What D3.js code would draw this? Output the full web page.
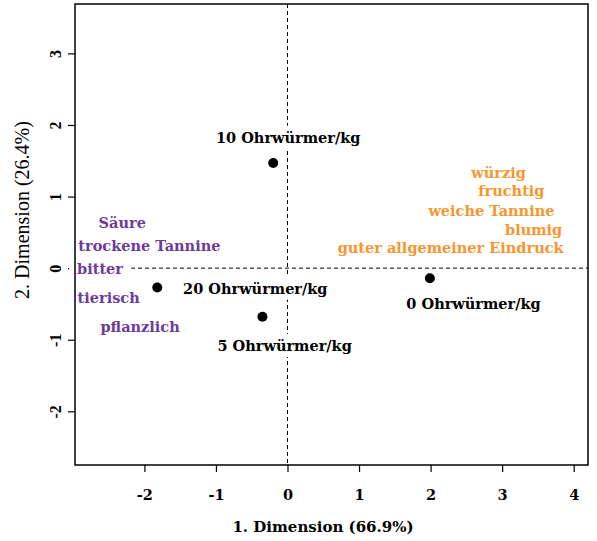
<!DOCTYPE html>
<html>
<head>
<meta charset="utf-8">
<script src="https://cdn.jsdelivr.net/npm/d3@7"></script>
<style>
  html, body { margin: 0; padding: 0; background: #fff; }
</style>
</head>
<body>
<svg id="chart" width="597" height="541"></svg>
<script>
// ---- data ----
const sampleNames = ["10 Ohrwürmer/kg", "20 Ohrwürmer/kg", "5 Ohrwürmer/kg", "0 Ohrwürmer/kg"];
const sampleX = [-0.20, -1.82, -0.35, 1.99];
const sampleY = [1.47, -0.27, -0.68, -0.14];
const sampleLabelX = [0.01, -0.45, -0.04, 2.60];
const sampleLabelY = [1.83, -0.28, -1.08, -0.49];

const negAttr = ["Säure", "trockene Tannine", "bitter", "tierisch", "pflanzlich"];
const negX = [-2.31, -1.93, -2.62, -2.50, -2.06];
const negY = [0.64, 0.32, 0.00, -0.41, -0.81];

const posAttr = ["würzig", "fruchtig", "weiche Tannine", "blumig", "guter allgemeiner Eindruck"];
const posX = [2.95, 3.13, 2.85, 3.44, 2.28];
const posY = [1.34, 1.09, 0.81, 0.54, 0.29];

const xTicks = [-2, -1, 0, 1, 2, 3, 4];
const yTicks = [-2, -1, 0, 1, 2, 3];
const xTitle = "1. Dimension (66.9%)";
const yTitle = "2. Dimension (26.4%)";

// ---- layout ----
const svg = d3.select("#chart");
const L = 75, R = 588, T = 4, B = 465;
const x = d3.scaleLinear().domain([-2.97, 4.2]).range([L, R]);
const y = d3.scaleLinear().domain([-2.75, 3.69]).range([B, T]);
const purple = "#6e3b9c";
const orange = "#f7962e";
const labelFont = "DejaVu Serif";

// reference lines
svg.append("line").attr("x1", x(0)).attr("x2", x(0)).attr("y1", T).attr("y2", B)
  .attr("stroke", "#000").attr("stroke-width", 1).attr("stroke-dasharray", "4,3");
svg.append("line").attr("x1", L).attr("x2", R).attr("y1", y(0)).attr("y2", y(0))
  .attr("stroke", "#000").attr("stroke-width", 1).attr("stroke-dasharray", "4,3");

// axes
const fmt = d => String(d);
const xAxis = d3.axisBottom(x).tickValues(xTicks).tickSize(7).tickFormat(fmt);
const gx = svg.append("g").attr("transform", `translate(0,${B})`).call(xAxis);
gx.select(".domain").remove();
gx.selectAll("line").attr("stroke", "#000").attr("stroke-width", 1.2);
gx.selectAll(".tick text").attr("fill", "#000")
  .style("font-family", labelFont).style("font-weight", "bold").style("font-size", "14.5px")
  .attr("y", 30).attr("dy", "0.35em");

const yAxis = d3.axisLeft(y).tickValues(yTicks).tickSize(7).tickFormat(fmt);
const gy = svg.append("g").attr("transform", `translate(${L},0)`).call(yAxis);
gy.select(".domain").remove();
gy.selectAll("line").attr("stroke", "#000").attr("stroke-width", 1.2);
gy.selectAll(".tick text").attr("fill", "#000")
  .style("font-family", "Liberation Serif").style("font-weight", "bold").style("font-size", "16px")
  .attr("x", 0).attr("dy", 0).attr("text-anchor", "middle")
  .attr("transform", "translate(-20,0) rotate(-90)").attr("dominant-baseline", "central");

// titles
svg.append("text").attr("x", 323).attr("y", 527).attr("text-anchor", "middle")
  .attr("dominant-baseline", "central")
  .style("font-family", labelFont).style("font-weight", "bold").style("font-size", "15px")
  .text(xTitle);
svg.append("text").attr("transform", "translate(22,210) rotate(-90)").attr("text-anchor", "middle")
  .attr("dominant-baseline", "central")
  .style("font-family", "Liberation Serif").style("font-weight", "normal").style("font-size", "20px")
  .text(yTitle);

// labels with white background: all boxes first, then all texts
const labels = [];
negAttr.forEach((s, i) => labels.push({ s, lx: negX[i], ly: negY[i], c: purple }));
posAttr.forEach((s, i) => labels.push({ s, lx: posX[i], ly: posY[i], c: orange }));
sampleNames.forEach((s, i) => labels.push({ s, lx: sampleLabelX[i], ly: sampleLabelY[i], c: "#000" }));

const boxLayer = svg.append("g");
const textLayer = svg.append("g");
labels.forEach(d => {
  const t = textLayer.append("text").attr("x", x(d.lx)).attr("y", y(d.ly))
    .attr("text-anchor", "middle").attr("dominant-baseline", "central")
    .style("font-family", labelFont).style("font-weight", "bold").style("font-size", "14.5px")
    .attr("fill", d.c).text(d.s);
  const bb = t.node().getBBox();
  const padX = 8, padY = 3;
  boxLayer.append("rect").attr("x", bb.x - padX).attr("y", bb.y - padY)
    .attr("width", bb.width + 2 * padX).attr("height", bb.height + 2 * padY).attr("fill", "#fff");
});

// points
svg.append("g").selectAll("circle").data(sampleNames).join("circle")
  .attr("cx", (d, i) => x(sampleX[i])).attr("cy", (d, i) => y(sampleY[i]))
  .attr("r", 5).attr("fill", "#000");

// box (drawn last so label backgrounds never hide it)
svg.append("rect").attr("x", L).attr("y", T).attr("width", R - L).attr("height", B - T)
  .attr("fill", "none").attr("stroke", "#000").attr("stroke-width", 1.5);
</script>
</body>
</html>
